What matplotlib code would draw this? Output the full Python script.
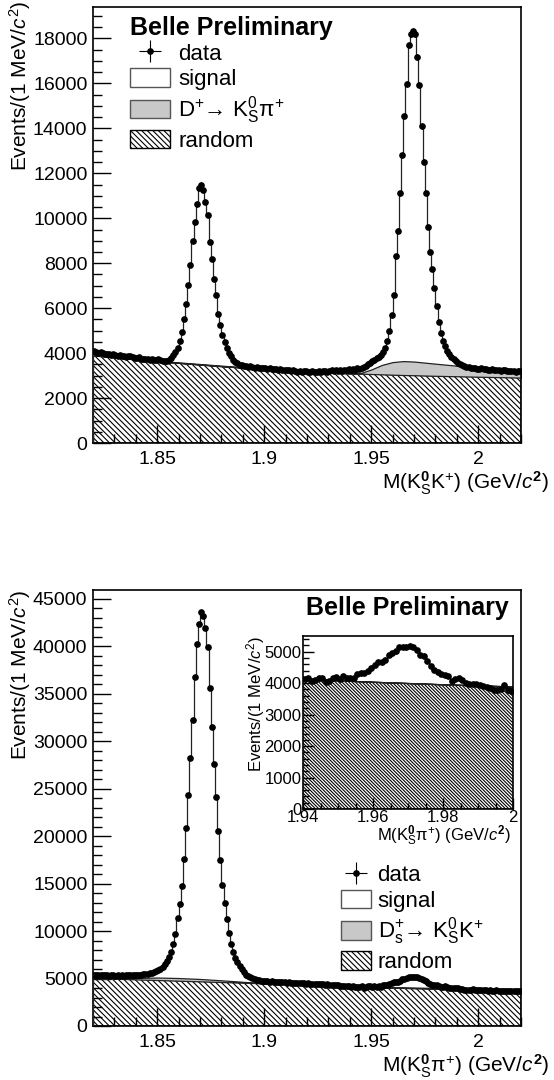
import numpy as np
import matplotlib
matplotlib.use('Agg')
from matplotlib import pyplot as plt
from matplotlib.patches import Patch
from matplotlib.ticker import MultipleLocator, FuncFormatter

plt.rcParams['font.family'] = ['Liberation Sans', 'DejaVu Sans']
plt.rcParams['mathtext.fontset'] = 'custom'
plt.rcParams['mathtext.rm'] = 'Liberation Sans'
plt.rcParams['mathtext.it'] = 'Liberation Sans:italic'
plt.rcParams['mathtext.bf'] = 'Liberation Sans:bold'
plt.rcParams['hatch.linewidth'] = 0.8

# 1 MeV bins from 1.82 to 2.02 GeV
edges = np.linspace(1.82, 2.02, 201)
centers = 0.5 * (edges[:-1] + edges[1:])

# ---- top panel: M(KS K+) ----
top_data = np.array(
    # 1.8205 - 1.8545
    [4080, 4050, 4020, 4030, 3990, 3960, 3980, 3940, 3920, 3950,
     3900, 3880, 3910, 3870, 3860, 3840, 3880, 3850, 3820, 3800,
     3790, 3810, 3760, 3740, 3760, 3720, 3700, 3730, 3690, 3680,
     3720, 3700, 3660, 3670, 3650]
    # 1.8555 - 1.8905 (D+ peak)
    + [3700, 3780, 3900, 4070, 4250, 4520, 4960, 5540, 6170, 7020,
       7900, 9000, 9820, 10620, 11360, 11500, 11260, 10740, 10150, 8930,
       8190, 7280, 6600, 5760, 5240, 4800, 4480, 4220, 4000, 3850,
       3700, 3600, 3540, 3480, 3450, 3430]
    # 1.8915 - 1.9445
    + [3420, 3400, 3430, 3380, 3360, 3390, 3350, 3330, 3360, 3320,
       3300, 3330, 3290, 3310, 3280, 3260, 3290, 3250, 3270, 3230,
       3240, 3210, 3250, 3200, 3180, 3220, 3160, 3190, 3210, 3150,
       3170, 3200, 3140, 3180, 3210, 3160, 3190, 3220, 3170, 3200,
       3230, 3190, 3240, 3210, 3250, 3220, 3260, 3240, 3280, 3260,
       3290, 3270, 3320, 3300]
    # 1.9455 - 1.9955 (Ds peak)
    + [3340, 3380, 3420, 3500, 3560, 3640, 3700, 3780, 3840, 3920,
       4050, 4250, 4550, 5000, 5700, 6600, 8300, 9450, 11110, 12800,
       14560, 15960, 17690, 18220, 18340, 18180, 17190, 15930, 14100, 12520,
       11110, 9630, 8520, 7730, 6900, 6100, 5400, 4900, 4550, 4300,
       4100, 3950, 3820, 3720, 3640, 3580, 3520, 3480, 3440, 3400,
       3380]
    # 1.9965 - 2.0195
    + [3360, 3340, 3350, 3310, 3300, 3320, 3280, 3290, 3260, 3270,
       3300, 3250, 3240, 3260, 3220, 3250, 3230, 3200, 3220, 3190,
       3210, 3180, 3200, 3190])

top_knots = [1.82, 1.85, 1.88, 1.90, 1.92, 1.94, 1.945, 1.95, 1.955,
             1.96, 1.965, 1.97, 1.98, 1.99, 2.00, 2.01, 2.02]
top_random = [3900, 3640, 3420, 3290, 3180, 3100, 3085, 3070, 3055,
              3040, 3025, 3015, 2990, 2970, 2950, 2930, 2910]
top_refl = [0, 0, 0, 0, 0, 0, 30, 200, 420,
            560, 620, 610, 540, 470, 420, 350, 270]

# ---- bottom panel: M(KS pi+) ----
bot_data = np.array(
    # 1.8205 - 1.8455
    [5420, 5380, 5410, 5350, 5370, 5330, 5360, 5300, 5340, 5320,
     5290, 5330, 5300, 5350, 5310, 5330, 5360, 5320, 5380, 5350,
     5400, 5380, 5420, 5450, 5430, 5480]
    # 1.8465 - 1.8985 (D+ peak)
    + [5550, 5620, 5700, 5800, 5920, 6050, 6250, 6500, 6800, 7250,
       7840, 8650, 9670, 11360, 12830, 14760, 17560, 20830, 24340, 28200,
       32180, 36720, 40220, 42320, 43560, 43140, 41900, 39880, 35630, 31450,
       27550, 24070, 20580, 17480, 14800, 12900, 11300, 9800, 8600, 7800,
       7200, 6700, 6300, 5950, 5650, 5400, 5250, 5120, 5020, 4950,
       4880, 4830, 4780]
    # 1.8995 - 1.9395
    + [4750, 4720, 4740, 4680, 4700, 4650, 4670, 4620, 4640, 4600,
       4610, 4570, 4590, 4550, 4560, 4520, 4540, 4500, 4480, 4510,
       4470, 4490, 4440, 4460, 4420, 4450, 4400, 4380, 4410, 4360,
       4370, 4330, 4350, 4300, 4280, 4310, 4260, 4240, 4220, 4200,
       4180]
    # 1.9405 - 1.9995 (Ds bump, also in inset)
    + [4130, 4180, 4060, 4110, 4150, 4170, 4050, 4080, 4180, 4200,
       4120, 4220, 4150, 4160, 4150, 4300, 4310, 4320, 4400, 4480,
       4590, 4660, 4660, 4750, 4900, 4960, 5010, 5140, 5160, 5150,
       5190, 5150, 5050, 4900, 4880, 4700, 4540, 4430, 4350, 4300,
       4270, 4220, 4060, 4130, 4160, 4100, 4020, 3990, 3980, 3960,
       3950, 3900, 3870, 3840, 3780, 3790, 3800, 3940, 3780, 3740]
    # 2.0005 - 2.0195
    + [3760, 3780, 3740, 3750, 3720, 3760, 3730, 3700, 3740, 3710,
       3720, 3690, 3730, 3700, 3680, 3710, 3690, 3720, 3700, 3680])

bot_knots = [1.82, 1.83, 1.84, 1.85, 1.86, 1.87, 1.88, 1.89, 1.90,
             1.92, 1.94, 1.96, 1.98, 2.00, 2.02]
bot_random = [5050, 4980, 4910, 4840, 4770, 4700, 4630, 4560, 4490,
              4320, 4120, 4030, 3950, 3880, 3820]
bot_refl = [0, 20, 150, 260, 280, 250, 180, 90, 0,
            0, 0, 0, 0, 0, 0]

GRAY = '#c8c8c8'
HATCH = '\\' * 6
HATCH_INSET = '\\' * 10
fmt_g = FuncFormatter(lambda v, p: '%g' % round(v, 4))


def draw_stack(ax, data, knots, random, refl, hatch):
    rnd = np.array(random)
    ax.fill_between(knots, 0, rnd, facecolor='white', edgecolor='black',
                    hatch=hatch, linewidth=0.9, zorder=1)
    ax.fill_between(knots, rnd, rnd + np.array(refl), facecolor=GRAY,
                    edgecolor='#222222', linewidth=0.9, zorder=2)
    ax.stairs(data, edges, color='#222222', linewidth=0.9, zorder=3)
    eb = ax.errorbar(centers, data, yerr=np.sqrt(data), xerr=0.0005, fmt='o',
                     color='black', markersize=3.8, elinewidth=0.8,
                     capsize=0, zorder=4)
    return eb


def style_axis(ax, ymax, ymajor, yminor, xlab, lab_fs=15, tick_fs=14):
    ax.set_xlim(1.82, 2.02)
    ax.set_ylim(0, ymax)
    ax.xaxis.set_major_locator(MultipleLocator(0.05))
    ax.xaxis.set_minor_locator(MultipleLocator(0.01))
    ax.yaxis.set_major_locator(MultipleLocator(ymajor))
    ax.yaxis.set_minor_locator(MultipleLocator(yminor))
    ax.xaxis.set_major_formatter(fmt_g)
    ax.tick_params(which='both', direction='in', top=False, right=False,
                   labelsize=tick_fs, width=1)
    ax.tick_params(which='major', length=13)
    ax.tick_params(which='minor', length=6.5)
    ax.tick_params(axis='y', pad=4)
    ax.tick_params(axis='x', pad=6)
    for s in ax.spines.values():
        s.set_linewidth(1.2)
    ax.set_ylabel(r'Events/(1 MeV/$c^{2}$)', fontsize=lab_fs, loc='top')
    ax.set_xlabel(xlab, fontsize=lab_fs, loc='right')
    ax.xaxis.set_label_coords(1.065, -0.06)


fig = plt.figure(figsize=(5.54, 10.8), dpi=100)

# ---------------- top ----------------
ax1 = fig.add_axes([0.1679, 0.5898, 0.7726, 0.4037])
eb1 = draw_stack(ax1, top_data, top_knots, top_random, top_refl, HATCH)
style_axis(ax1, 19400, 2000, 500,
           r'M(K$^{\mathbf{0}}_{\mathrm{S}}$K$^{+}$) (GeV/$c^{\mathbf{2}}$)')
ax1.yaxis.set_label_coords(-0.14, 1.015)
ax1.text(0.086, 0.952, 'Belle Preliminary', transform=ax1.transAxes,
         fontsize=18, fontweight='bold', ha='left', va='center')
h1 = [eb1,
      Patch(facecolor='white', edgecolor='#555555'),
      Patch(facecolor=GRAY, edgecolor='#555555'),
      Patch(facecolor='white', edgecolor='black', hatch=HATCH)]
l1 = ['data', 'signal', r'D$^{+}$→ K$^{0}_{\mathrm{S}}$π$^{+}$', 'random']
ax1.legend(h1, l1, loc='upper left', bbox_to_anchor=(0.087, 0.918),
           frameon=False, fontsize=16, handlelength=1.8, handleheight=0.9,
           handletextpad=0.35, labelspacing=0.17, borderpad=0,
           borderaxespad=0)

# ---------------- bottom ----------------
ax2 = fig.add_axes([0.1679, 0.05, 0.7726, 0.4037])
eb2 = draw_stack(ax2, bot_data, bot_knots, bot_random, bot_refl, HATCH)
style_axis(ax2, 45900, 5000, 1000,
           r'M(K$^{\mathbf{0}}_{\mathrm{S}}$π$^{+}$) (GeV/$c^{\mathbf{2}}$)')
ax2.yaxis.set_label_coords(-0.14, 1.0)
ax2.text(0.972, 0.959, 'Belle Preliminary', transform=ax2.transAxes,
         fontsize=18, fontweight='bold', ha='right', va='center')
h2 = [eb2,
      Patch(facecolor='white', edgecolor='#555555'),
      Patch(facecolor=GRAY, edgecolor='#555555'),
      Patch(facecolor='white', edgecolor='black', hatch=HATCH)]
l2 = ['data', 'signal', r'D$_{\mathrm{s}}^{+}$→ K$^{0}_{\mathrm{S}}$K$^{+}$',
      'random']
ax2.legend(h2, l2, loc='upper left', bbox_to_anchor=(0.579, 0.371),
           frameon=False, fontsize=16, handlelength=1.35, handleheight=0.9,
           handletextpad=0.3, labelspacing=0.17, borderpad=0,
           borderaxespad=0)

# ---------------- inset ----------------
ax3 = fig.add_axes([0.547, 0.2509, 0.379, 0.1602])
draw_stack(ax3, bot_data, bot_knots, bot_random, bot_refl, HATCH_INSET)
ax3.set_xlim(1.94, 2.0)
ax3.set_ylim(0, 5500)
ax3.xaxis.set_major_locator(MultipleLocator(0.02))
ax3.xaxis.set_minor_locator(MultipleLocator(0.005))
ax3.yaxis.set_major_locator(MultipleLocator(1000))
ax3.yaxis.set_minor_locator(MultipleLocator(200))
ax3.xaxis.set_major_formatter(fmt_g)
ax3.tick_params(which='both', direction='in', top=False, right=False,
                labelsize=12, width=1, pad=1)
ax3.tick_params(which='major', length=8)
ax3.tick_params(which='minor', length=4)
for s in ax3.spines.values():
    s.set_linewidth(1.2)
ax3.set_ylabel(r'Events/(1 MeV/$c^{2}$)', fontsize=12, loc='top')
ax3.yaxis.set_label_coords(-0.17, 1.0)
ax3.set_xlabel(r'M(K$^{\mathbf{0}}_{\mathrm{S}}$π$^{+}$) (GeV/$c^{\mathbf{2}}$)',
               fontsize=12, loc='right')
ax3.xaxis.set_label_coords(0.99, -0.085)

plt.savefig('out.png', dpi=100)
